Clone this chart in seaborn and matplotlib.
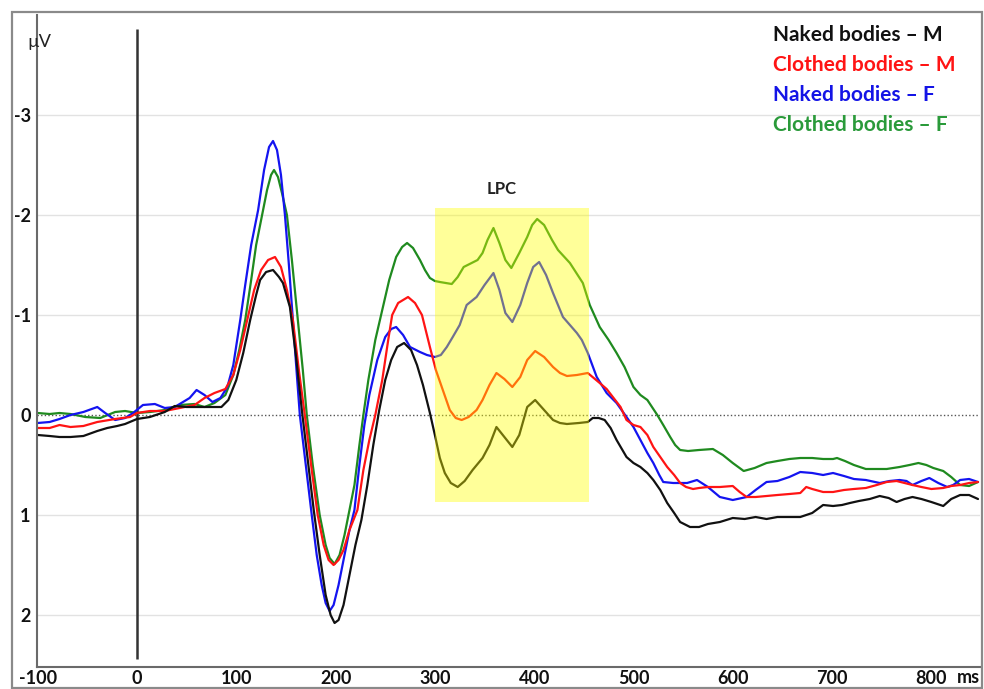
import pandas as pd
import matplotlib
matplotlib.use("Agg")
import matplotlib.pyplot as plt
from matplotlib.patches import Rectangle
from matplotlib.transforms import blended_transform_factory
import seaborn as sns

# ---- grand-average ERP waveforms (time in ms, amplitude in µV) ----
t_naked_m = [-100, -88, -78, -67, -54, -40, -30, -20, -12, 0, 13, 28, 38, 50, 63, 78, 85, 92,
             100, 107, 114, 120, 124, 130, 137, 143, 147, 154, 160, 166, 172, 178, 184, 190,
             195, 199, 203, 208, 214, 220, 226, 232, 238, 244, 250, 256, 262, 269, 276, 282,
             288, 295, 300, 305, 310, 316, 323, 330, 338, 348, 355, 362, 370, 378, 385, 393,
             401, 410, 419, 426, 433, 445, 454, 459, 465, 471, 477, 483, 493, 500, 507, 514,
             520, 527, 534, 541, 547, 557, 566, 575, 587, 600, 612, 623, 634, 645, 657, 668,
             680, 691, 701, 710, 718, 727, 738, 748, 757, 765, 773, 781, 790, 800, 812, 820,
             829, 838, 847]
v_naked_m = [0.20, 0.21, 0.22, 0.22, 0.21, 0.16, 0.13, 0.11, 0.09, 0.04, 0.02, -0.03, -0.09,
             -0.08, -0.08, -0.08, -0.08, -0.15, -0.35, -0.62, -0.95, -1.2, -1.35, -1.43,
             -1.45, -1.38, -1.32, -1.08, -0.6, -0.05, 0.45, 0.95, 1.4, 1.8, 2.0, 2.08, 2.05,
             1.9, 1.6, 1.3, 1.05, 0.7, 0.3, -0.05, -0.35, -0.55, -0.68, -0.72, -0.65, -0.5,
             -0.3, -0.02, 0.2, 0.43, 0.58, 0.68, 0.72, 0.66, 0.55, 0.43, 0.3, 0.12, 0.22, 0.32,
             0.2, -0.08, -0.15, -0.05, 0.05, 0.08, 0.09, 0.08, 0.07, 0.03, 0.03, 0.05, 0.13,
             0.25, 0.42, 0.48, 0.52, 0.58, 0.65, 0.75, 0.88, 0.98, 1.07, 1.12, 1.12, 1.09,
             1.07, 1.03, 1.04, 1.02, 1.04, 1.02, 1.02, 1.02, 0.98, 0.9, 0.91, 0.9, 0.88, 0.86,
             0.84, 0.81, 0.83, 0.87, 0.84, 0.82, 0.84, 0.87, 0.91, 0.84, 0.8, 0.8, 0.84]

t_clothed_m = [-100, -88, -78, -67, -54, -40, -22, -7, 0, 13, 28, 43, 58, 68, 78, 89, 97, 104,
               111, 118, 125, 132, 139, 145, 151, 157, 163, 169, 176, 182, 188, 193, 198, 203,
               208, 214, 222, 228, 234, 240, 247, 253, 257, 263, 273, 280, 287, 295, 301, 308,
               315, 321, 327, 334, 342, 348, 355, 362, 370, 378, 386, 393, 401, 410, 419, 426,
               433, 443, 454, 466, 473, 480, 487, 493, 500, 507, 514, 520, 527, 534, 541, 547,
               553, 560, 566, 575, 587, 600, 607, 614, 623, 634, 645, 657, 668, 674, 680, 691,
               701, 712, 722, 734, 745, 755, 765, 773, 781, 790, 800, 812, 820, 829, 838, 847]
v_clothed_m = [0.13, 0.13, 0.10, 0.12, 0.11, 0.07, 0.04, 0.02, -0.02, -0.04, -0.04, -0.07,
               -0.1, -0.17, -0.22, -0.26, -0.4, -0.65, -0.95, -1.25, -1.45, -1.55, -1.58,
               -1.48, -1.25, -0.95, -0.45, 0.0, 0.55, 1.0, 1.3, 1.45, 1.5, 1.45, 1.35, 1.15,
               0.95, 0.55, 0.25, 0.0, -0.35, -0.75, -1.0, -1.12, -1.18, -1.12, -1.0, -0.68,
               -0.45, -0.25, -0.05, 0.03, 0.05, 0.02, -0.05, -0.15, -0.3, -0.42, -0.36, -0.28,
               -0.38, -0.55, -0.64, -0.58, -0.48, -0.42, -0.39, -0.4, -0.42, -0.32, -0.26,
               -0.17, -0.08, 0.05, 0.1, 0.12, 0.2, 0.32, 0.42, 0.52, 0.6, 0.68, 0.72, 0.74,
               0.73, 0.72, 0.72, 0.71, 0.77, 0.82, 0.82, 0.81, 0.8, 0.79, 0.78, 0.72, 0.74,
               0.77, 0.77, 0.75, 0.74, 0.73, 0.7, 0.67, 0.66, 0.68, 0.7, 0.72, 0.74, 0.73,
               0.71, 0.7, 0.68, 0.67]

t_naked_f = [-100, -88, -78, -67, -54, -40, -32, -22, -12, -4, 6, 18, 28, 38, 53, 60, 68, 76,
             84, 91, 97, 104, 109, 115, 122, 128, 133, 137, 141, 145, 149, 153, 157, 161, 164,
             170, 176, 181, 186, 190, 194, 198, 203, 208, 214, 219, 224, 229, 234, 242, 250,
             256, 261, 268, 275, 285, 292, 300, 306, 312, 318, 325, 332, 342, 350, 359, 365,
             371, 378, 386, 393, 399, 405, 412, 419, 429, 436, 443, 448, 454, 463, 473, 483,
             493, 500, 507, 514, 520, 526, 530, 540, 554, 564, 575, 587, 600, 614, 623, 634,
             645, 657, 668, 680, 691, 701, 712, 722, 734, 748, 758, 768, 775, 781, 790, 798,
             807, 816, 822, 829, 838, 847]
v_naked_f = [0.08, 0.07, 0.04, 0.0, -0.03, -0.08, -0.02, 0.05, 0.03, -0.02, -0.1, -0.11,
             -0.07, -0.08, -0.17, -0.25, -0.2, -0.13, -0.17, -0.28, -0.5, -0.95, -1.3, -1.7,
             -2.05, -2.45, -2.68, -2.74, -2.65, -2.4, -2.0, -1.5, -0.95, -0.4, 0.0, 0.5, 1.0,
             1.4, 1.7, 1.88, 1.96, 1.9, 1.7, 1.45, 1.15, 0.95, 0.5, 0.1, -0.2, -0.55, -0.78,
             -0.86, -0.88, -0.8, -0.68, -0.63, -0.6, -0.58, -0.6, -0.68, -0.78, -0.9, -1.1,
             -1.18, -1.3, -1.42, -1.25, -1.02, -0.93, -1.1, -1.32, -1.48, -1.53, -1.4, -1.22,
             -0.98, -0.9, -0.82, -0.75, -0.62, -0.38, -0.22, -0.12, 0.02, 0.12, 0.25, 0.38,
             0.48, 0.6, 0.67, 0.68, 0.68, 0.65, 0.72, 0.82, 0.85, 0.82, 0.75, 0.67, 0.66,
             0.62, 0.57, 0.58, 0.6, 0.58, 0.61, 0.64, 0.65, 0.68, 0.66, 0.65, 0.66, 0.7, 0.66,
             0.63, 0.68, 0.72, 0.7, 0.65, 0.64, 0.67]

t_clothed_f = [-100, -88, -78, -67, -52, -37, -22, -12, 0, 13, 28, 43, 58, 68, 78, 89, 97, 103,
               109, 115, 120, 126, 131, 135, 138, 142, 146, 151, 156, 162, 167, 171, 177, 184,
               190, 194, 199, 204, 209, 214, 219, 224, 228, 233, 240, 247, 254, 261, 267, 272,
               278, 285, 290, 295, 300, 305, 311, 317, 323, 329, 337, 343, 348, 353, 359, 365,
               371, 377, 385, 393, 398, 403, 410, 418, 424, 436, 449, 456, 466, 475, 483, 491,
               500, 507, 514, 524, 530, 537, 542, 547, 555, 566, 580, 590, 600, 611, 622, 634,
               645, 657, 668, 680, 691, 701, 705, 713, 722, 734, 745, 755, 768, 778, 787, 795,
               802, 812, 820, 829, 838, 847]
v_clothed_f = [-0.02, -0.01, -0.02, -0.01, 0.02, 0.03, -0.03, -0.04, -0.02, -0.03, -0.05,
               -0.1, -0.11, -0.08, -0.12, -0.2, -0.4, -0.65, -0.95, -1.35, -1.7, -2.0, -2.25,
               -2.4, -2.45, -2.38, -2.22, -2.0, -1.55, -0.95, -0.45, 0.0, 0.5, 1.0, 1.3, 1.43,
               1.49, 1.4, 1.2, 0.95, 0.7, 0.3, 0.0, -0.35, -0.75, -1.05, -1.35, -1.58, -1.68,
               -1.72, -1.67, -1.55, -1.45, -1.37, -1.34, -1.33, -1.32, -1.31, -1.38, -1.48,
               -1.52, -1.55, -1.62, -1.75, -1.87, -1.72, -1.55, -1.47, -1.62, -1.78, -1.9,
               -1.96, -1.9, -1.75, -1.65, -1.52, -1.32, -1.1, -0.88, -0.75, -0.62, -0.48,
               -0.28, -0.2, -0.15, 0.0, 0.1, 0.22, 0.3, 0.35, 0.36, 0.35, 0.34, 0.4, 0.48,
               0.56, 0.53, 0.48, 0.46, 0.44, 0.43, 0.43, 0.44, 0.44, 0.43, 0.46, 0.5, 0.54,
               0.54, 0.54, 0.52, 0.5, 0.48, 0.5, 0.53, 0.56, 0.62, 0.7, 0.71, 0.67]

conditions = ["Naked bodies – M", "Clothed bodies – M", "Naked bodies – F", "Clothed bodies – F"]
cond_colors = ["#111111", "#ff1414", "#1414f0", "#1f8a1f"]
label_colors = ["#111111", "#ff1414", "#1414e6", "#2a9a3a"]

x_ticks = [-100, 0, 100, 200, 300, 400, 500, 600, 700, 800]
x_minor = [-50, 50, 150, 250, 350, 450, 550, 650, 750]
y_ticks = [-3, -2, -1, 0, 1, 2]

lpc_start, lpc_end = 300, 455
lpc_top, lpc_bottom = -2.07, 0.87

series = [(t_naked_m, v_naked_m), (t_clothed_m, v_clothed_m),
          (t_naked_f, v_naked_f), (t_clothed_f, v_clothed_f)]
df = pd.concat(
    [pd.DataFrame({"time": t, "amp": v, "condition": c})
     for (t, v), c in zip(series, conditions)],
    ignore_index=True,
)

sns.set_style("white")
plt.rcParams["font.family"] = ["Lato", "DejaVu Sans"]
plt.rcParams["axes.unicode_minus"] = False

W, H = 984, 689
fig = plt.figure(figsize=(W / 100, H / 100), dpi=100)
ax = fig.add_axes([37 / W, 1 - 667 / H, (980 - 37) / W, (667 - 15) / H])

# horizontal grid + dotted baseline
for yt in y_ticks:
    if yt == 0:
        ax.axhline(0, color="#555555", lw=1.0, ls=(0, (1, 1.6)), zorder=1)
    else:
        ax.axhline(yt, color="#e2e2e2", lw=1.0, zorder=0)

# stimulus onset
ax.vlines(0, ymin=-3.86, ymax=2.44, color="#333333", lw=1.8, zorder=1)

draw_order = [conditions[3], conditions[2], conditions[1], conditions[0]]
sns.lineplot(data=df, x="time", y="amp", hue="condition", hue_order=draw_order,
             palette=dict(zip(conditions, cond_colors)), estimator=None, sort=False,
             lw=1.6, legend=False, ax=ax, zorder=2)

# LPC analysis window
ax.add_patch(Rectangle((lpc_start, lpc_top), lpc_end - lpc_start, lpc_bottom - lpc_top,
                       facecolor="#ffff00", alpha=0.4, edgecolor="none", zorder=3))
ax.text((lpc_start + lpc_end) / 2 - 10, -2.26, "LPC", ha="center", va="center",
        fontsize=12, fontweight="bold", color="#222222", zorder=4)

ax.set_xlim(-100.7, 849)
ax.set_ylim(2.52, -4.0)
ax.set_xlabel("")
ax.set_ylabel("")

for s in ["top", "right"]:
    ax.spines[s].set_visible(False)
for s in ["left", "bottom"]:
    ax.spines[s].set_color("#6a6a6a")
    ax.spines[s].set_linewidth(1.5)

ax.set_xticks(x_ticks)
ax.set_xticks(x_minor, minor=True)
ax.set_xticklabels([str(v) for v in x_ticks])
ax.set_yticks(y_ticks)
ax.set_yticklabels([str(v) for v in y_ticks])
ax.tick_params(axis="x", which="both", direction="in", length=4, width=1, color="#6a6a6a",
               pad=2, labelsize=13)
ax.tick_params(axis="y", direction="inout", length=5, width=1, color="#6a6a6a",
               pad=2, labelsize=13)
for lab in ax.get_xticklabels() + ax.get_yticklabels():
    lab.set_fontweight("bold")
    lab.set_color("#111111")

trans = blended_transform_factory(ax.transData, ax.transAxes)
ax.text(849, -0.016, "ms", transform=trans, ha="right", va="center", fontsize=13,
        fontweight="bold", color="#111111")

fig.text(27 / W, 1 - 42 / H, "µV", ha="left", va="center", fontsize=13, color="#222222")

for i, (name, col) in enumerate(zip(conditions, label_colors)):
    fig.text(773 / W, 1 - (35 + 30 * i) / H, name, ha="left", va="center",
             fontsize=15, fontweight="bold", color=col)

fig.patches.append(Rectangle((12 / W, 1 - 688 / H), (982 - 12) / W, (688 - 12) / H,
                             transform=fig.transFigure, fill=False, edgecolor="#8a8a8a",
                             lw=1.6))

fig.savefig("out.png", dpi=100)
